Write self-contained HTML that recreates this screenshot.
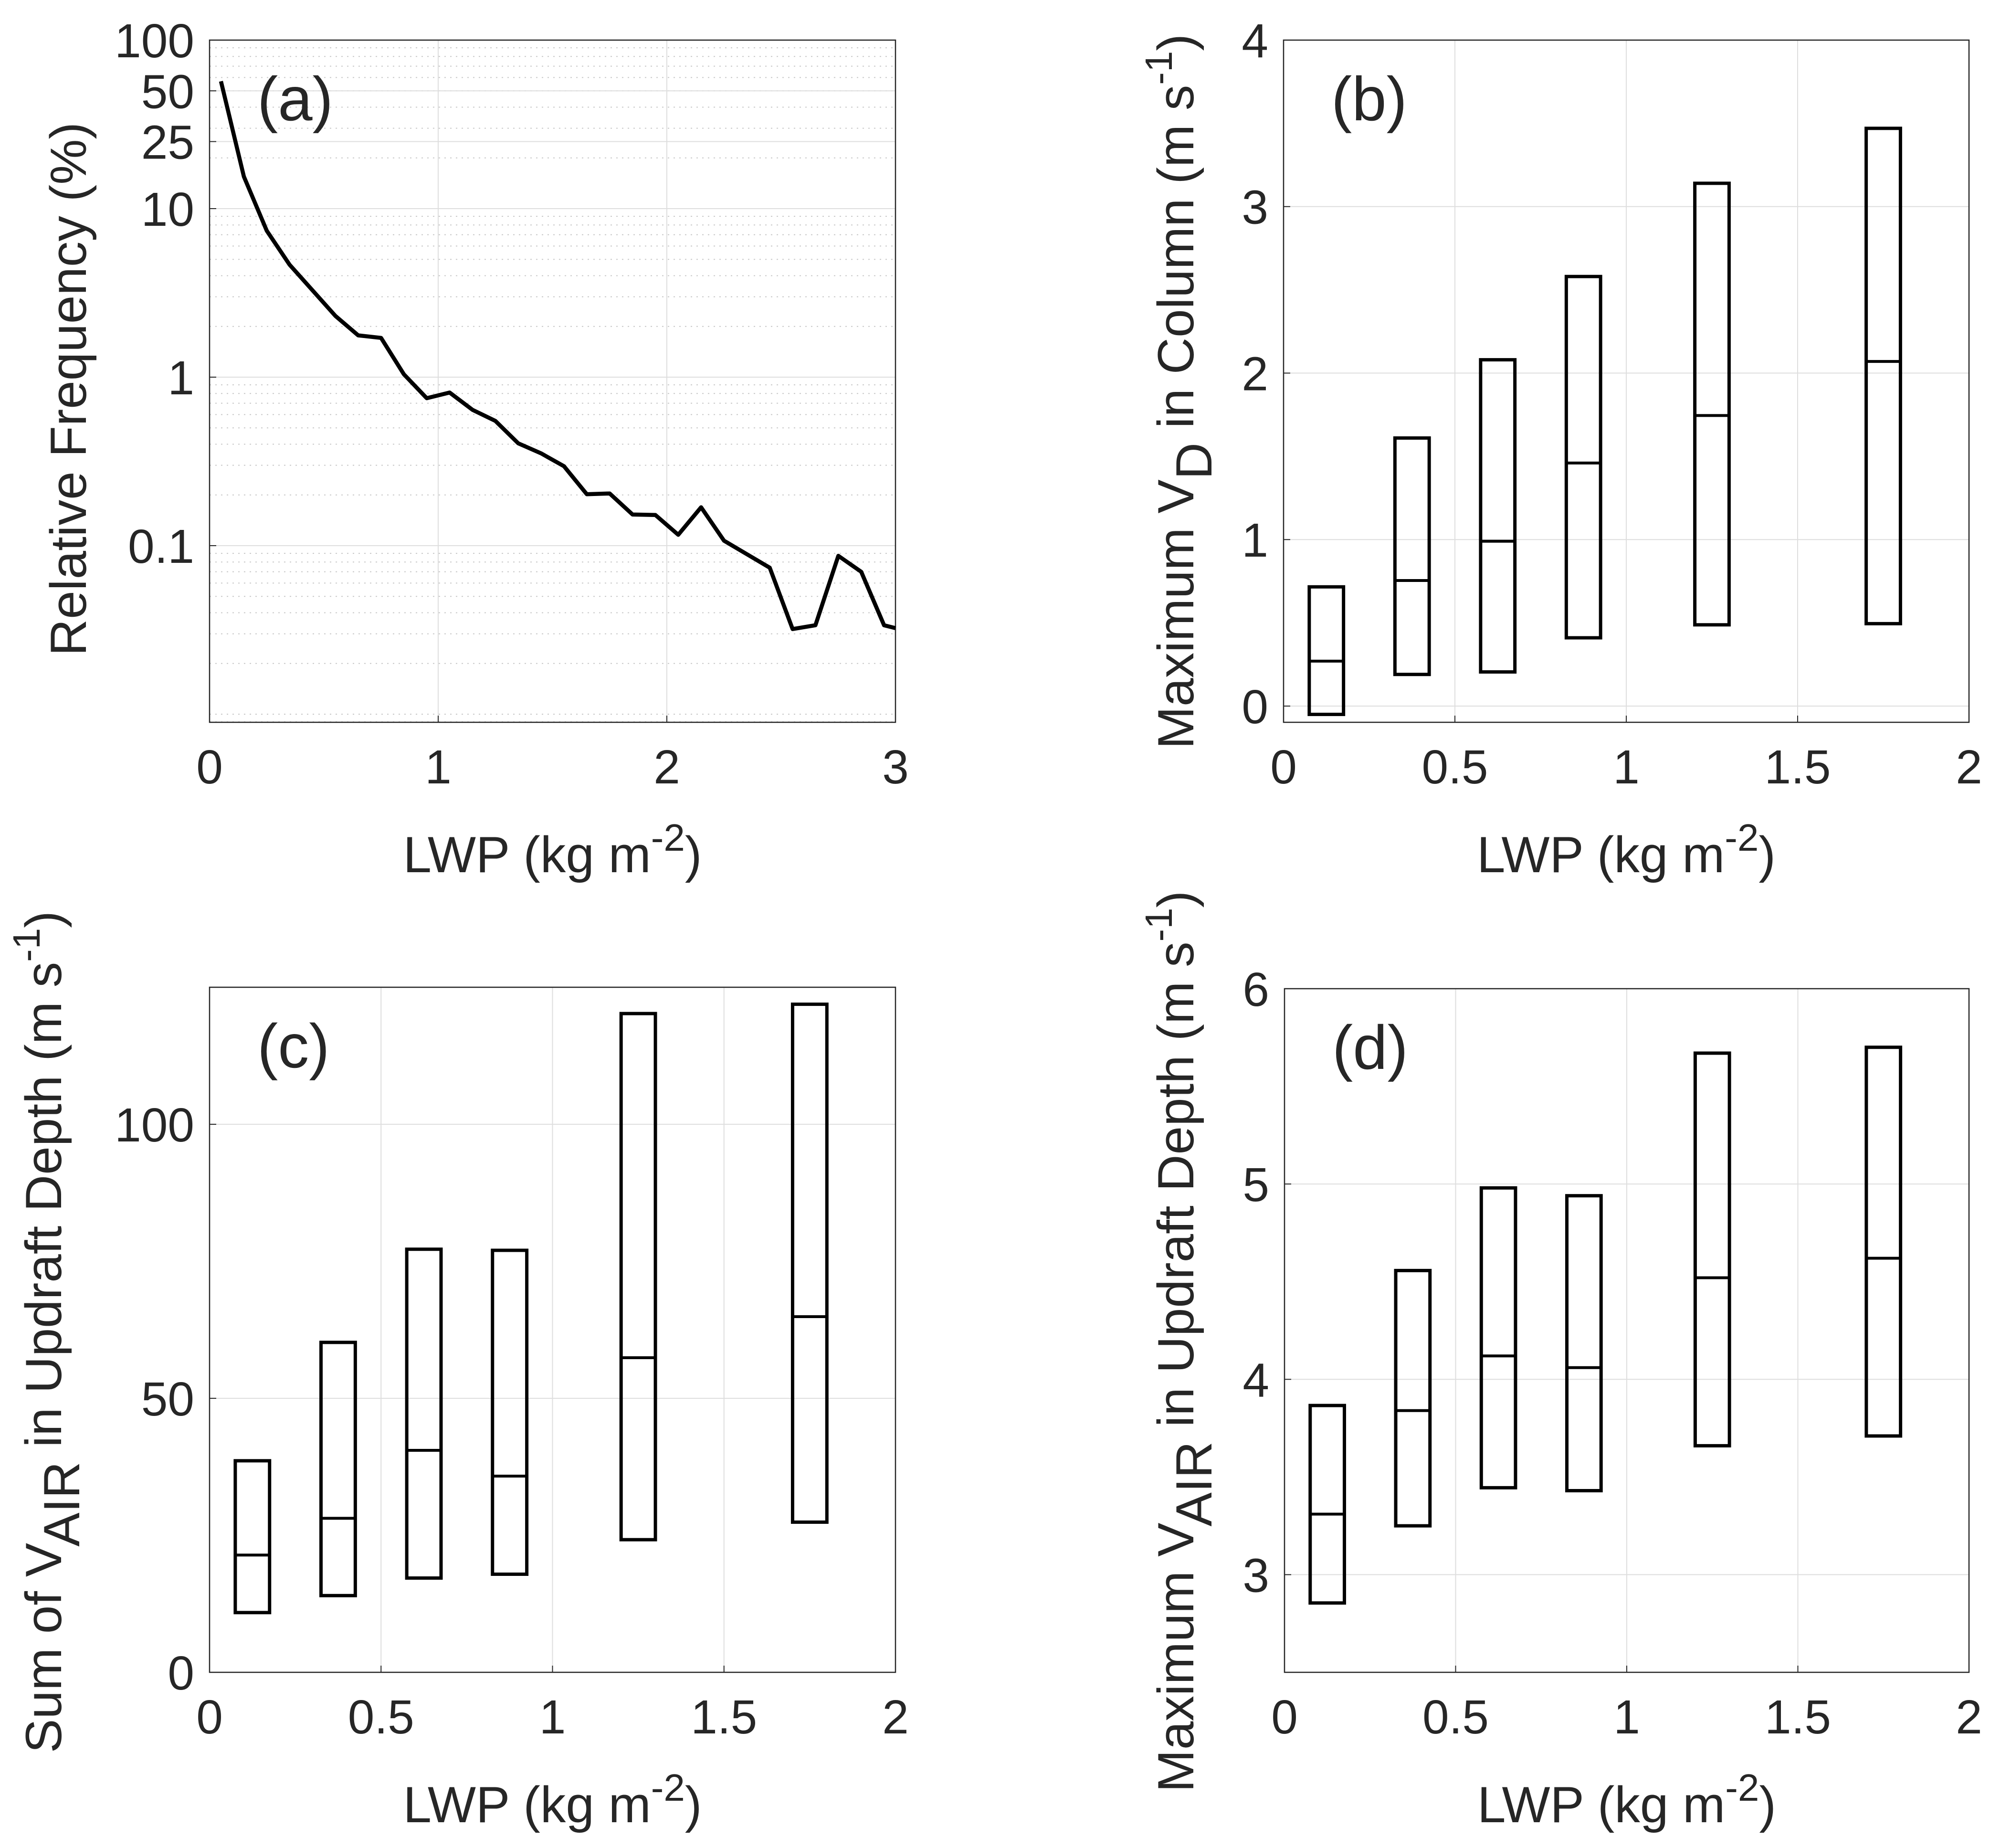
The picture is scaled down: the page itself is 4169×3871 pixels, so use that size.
<!DOCTYPE html>
<html><head><meta charset="utf-8"><style>
html,body{margin:0;padding:0;background:#fff}
svg{display:block}
text{font-family:"Liberation Sans",sans-serif;fill:#262626}
</style></head><body>
<svg id="fig" width="4169" height="3871" viewBox="0 0 4169 3871" xmlns="http://www.w3.org/2000/svg"></svg>
<script>
// ---- Panel (a) data ----
const aX = [0.05,0.15,0.25,0.35,0.45,0.55,0.65,0.75,0.85,0.95,1.05,1.15,1.25,1.35,1.45,1.55,1.65,1.75,1.85,1.95,2.05,2.15,2.25,2.35,2.45,2.55,2.65,2.75,2.85,2.95,3.0];
const aY = [57,15.5,7.4,4.65,3.28,2.31,1.77,1.71,1.04,0.75,0.81,0.64,0.55,0.405,0.353,0.296,0.202,0.204,0.153,0.152,0.116,0.169,0.107,0.089,0.074,0.032,0.0337,0.087,0.070,0.0337,0.0324];
const aYTicks = [0.1,1,10,25,50,100];
const aYTickLabels = ["0.1","1","10","25","50","100"];
const aXTicks = [0,1,2,3];
// ---- Box panels data ----
const boxX = [0.125,0.375,0.625,0.875,1.25,1.75];
const bTop = [0.716,1.61,2.08,2.58,3.14,3.47];
const bMid = [0.27,0.754,0.99,1.46,1.745,2.07];
const bBot = [-0.05,0.19,0.205,0.41,0.488,0.495];
const cTop = [38.6,60.2,77.2,77.0,120.2,121.9];
const cMid = [21.4,28.1,40.5,35.8,57.4,64.9];
const cBot = [10.9,14.0,17.2,17.9,24.2,27.4];
const dTop = [3.866,4.557,4.98,4.94,5.67,5.70];
const dMid = [3.31,3.84,4.12,4.06,4.52,4.62];
const dBot = [2.855,3.25,3.445,3.43,3.66,3.71];
const boxXTicks = [0,0.5,1,1.5,2];
const boxXTickLabels = ["0","0.5","1","1.5","2"];
const bYTicks = [0,1,2,3,4];
const cYTicks = [0,50,100];
const dYTicks = [3,4,5,6];

const NS = "http://www.w3.org/2000/svg";
const svg = document.getElementById('fig');
function el(tag, attrs, parent){
  const e = document.createElementNS(NS, tag);
  for (const k in attrs) e.setAttribute(k, attrs[k]);
  (parent||svg).appendChild(e);
  return e;
}
const TICKFS = 100, LABFS = 107, LETFS = 130;

function makePanel(o){
  const g = el('g', {});
  
  
  const sx = v => o.L + (v - o.x0) / (o.x1 - o.x0) * (o.R - o.L);
  const sy = o.log
    ? v => o.B - (Math.log10(v) - o.y0) / (o.y1 - o.y0) * (o.B - o.T)
    : v => o.B - (v - o.y0) / (o.y1 - o.y0) * (o.B - o.T);
  if (o.log) {
    for (let d = Math.floor(o.y0); d < o.y1; d++) {
      for (let m = 1; m <= 9; m++) {
        const v = m * Math.pow(10, d);
        const lv = Math.log10(v);
        if (lv <= o.y0 || lv >= o.y1) continue;
        const y = sy(v);
        const ln = el('line', {x1:o.L, x2:o.R, y1:y, y2:y, stroke:'#c8c8c8', 'stroke-width':2, 'stroke-dasharray':'3,9'}, g);
        
        
      }
    }
  }
  o.xTicks.forEach((v,i) => {
    const x = sx(v);
    const ln = el('line', {x1:x, x2:x, y1:o.T, y2:o.B, stroke:'#dedede', 'stroke-width':2}, g);
    
    
    el('line', {x1:x, x2:x, y1:o.B, y2:o.B-14, stroke:'#262626', 'stroke-width':2}, g);
    const t = el('text', {x:x, y:o.B+128, 'font-size':TICKFS, 'text-anchor':'middle'}, g);
    t.textContent = o.xLabels[i];
    
    
  });
  o.yTicks.forEach((v,i) => {
    const y = sy(v);
    const ln = el('line', {x1:o.L, x2:o.R, y1:y, y2:y, stroke:'#dedede', 'stroke-width':2}, g);
    
    
    el('line', {x1:o.L, x2:o.L+14, y1:y, y2:y, stroke:'#262626', 'stroke-width':2}, g);
    const t = el('text', {x:o.L-32, y:y+36, 'font-size':TICKFS, 'text-anchor':'end'}, g);
    t.textContent = o.yLabels[i];
    
    
  });
  const fr = el('rect', {x:o.L, y:o.T, width:o.R-o.L, height:o.B-o.T, fill:'none', stroke:'#262626', 'stroke-width':2.5}, g);
  
  
  const xl = el('text', {x:(o.L+o.R)/2, y:o.B+314, 'font-size':LABFS, 'text-anchor':'middle'}, g);
  xl.innerHTML = 'LWP (kg m<tspan dy="-45" font-size="80">-2</tspan><tspan dy="45">)</tspan>';
  
  
  const yl = el('text', {x:0, y:0, 'font-size':LABFS, 'text-anchor':'middle', transform:`translate(${o.ylx},${o.yly}) rotate(-90)`}, g);
  yl.innerHTML = o.ylabel;
  
  
  const lt = el('text', {x:o.L+100, y:o.T+168, 'font-size':LETFS, fill:'#000'}, g);
  lt.textContent = o.letter;
  
  
  return {g, sx, sy};
}

const pa = makePanel({name:'panel-a', L:439, R:1876, T:84, B:1513, x0:0, x1:3, y0:2-(1513-84)/353, y1:2, log:true,
  xTicks:aXTicks, xLabels:aXTicks.map(String), yTicks:aYTicks, yLabels:aYTickLabels,
  ylx:180, yly:815, ylabel:'Relative Frequency (%)', letter:'(a)'});
const pts = aX.map((x,i) => pa.sx(x).toFixed(1)+','+pa.sy(aY[i]).toFixed(1)).join(' ');
const line = el('polyline', {points:pts, fill:'none', stroke:'#000', 'stroke-width':8.5, 'stroke-linejoin':'round'}, pa.g);



function drawBoxes(p, tops, mids, bots){
  boxX.forEach((x,i) => {
    const xl = p.sx(x-0.05), xr = p.sx(x+0.05);
    const yt = p.sy(tops[i]), yb = p.sy(bots[i]), ym = p.sy(mids[i]);
    const r = el('rect', {x:xl, y:yt, width:xr-xl, height:yb-yt, fill:'none', stroke:'#000', 'stroke-width':7}, p.g);
    
    
    const m = el('line', {x1:xl, x2:xr, y1:ym, y2:ym, stroke:'#000', 'stroke-width':6}, p.g);
    
    
  });
}

const pb = makePanel({name:'panel-b', L:2689, R:4125, T:84, B:1513, x0:0, x1:2, y0:-0.0975, y1:4,
  xTicks:boxXTicks, xLabels:boxXTickLabels, yTicks:bYTicks, yLabels:bYTicks.map(String),
  ylx:2500, yly:820, ylabel:'Maximum V<tspan dy="38">D</tspan><tspan dy="-38"> in Column (m s</tspan><tspan dy="-45" font-size="80">-1</tspan><tspan dy="45">)</tspan>', letter:'(b)'});
drawBoxes(pb, bTop, bMid, bBot);

const pc = makePanel({name:'panel-c', L:439, R:1876, T:2068, B:3503, x0:0, x1:2, y0:0, y1:125,
  xTicks:boxXTicks, xLabels:boxXTickLabels, yTicks:cYTicks, yLabels:cYTicks.map(String),
  ylx:128, yly:2790, ylabel:'Sum of V<tspan dy="38">AIR</tspan><tspan dy="-38"> in Updraft Depth (m s</tspan><tspan dy="-45" font-size="80">-1</tspan><tspan dy="45">)</tspan>', letter:'(c)'});
drawBoxes(pc, cTop, cMid, cBot);

const pd = makePanel({name:'panel-d', L:2691, R:4125, T:2071, B:3503, x0:0, x1:2, y0:2.5, y1:6,
  xTicks:boxXTicks, xLabels:boxXTickLabels, yTicks:dYTicks, yLabels:dYTicks.map(String),
  ylx:2500, yly:2810, ylabel:'Maximum V<tspan dy="38">AIR</tspan><tspan dy="-38"> in Updraft Depth (m s</tspan><tspan dy="-45" font-size="80">-1</tspan><tspan dy="45">)</tspan>', letter:'(d)'});
drawBoxes(pd, dTop, dMid, dBot);
</script>
</body></html>
